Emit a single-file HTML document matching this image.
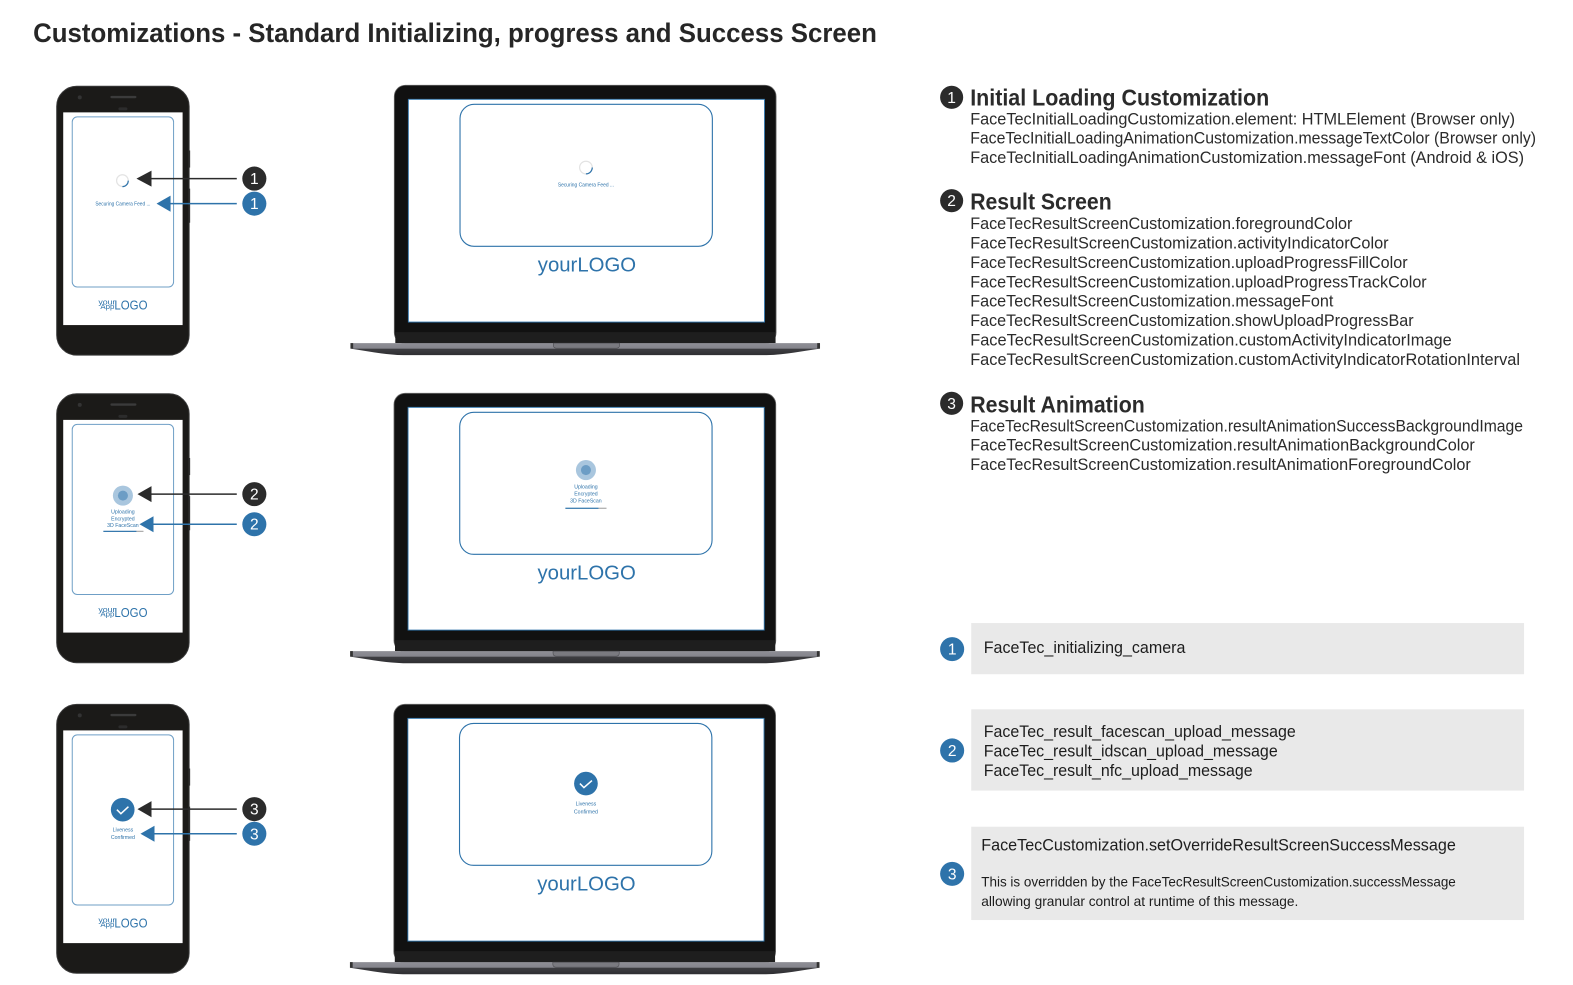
<!DOCTYPE html>
<html><head><meta charset="utf-8"><style>
html,body{margin:0;padding:0;background:#fff;width:1573px;height:985px;overflow:hidden}
svg{display:block}
text{font-family:"Liberation Sans",sans-serif}
.b{font-size:16.2px;fill:#2b2b2b}
.h{font-size:23.5px;font-weight:bold;fill:#2b2b2b}
.m{fill:#2e73aa;font-size:5.2px}
.n{fill:#fff;font-size:15.5px;text-anchor:middle}
.l{fill:#2e73aa;font-size:12.8px}
</style></head><body>
<svg width="1573" height="985" viewBox="0 0 1567.8 981.75" xmlns="http://www.w3.org/2000/svg">
<defs>
<linearGradient id="bs" x1="0" y1="0" x2="0" y2="1"><stop offset="0" stop-color="#8f8f96"/><stop offset=".42" stop-color="#85858c"/><stop offset=".5" stop-color="#3d3d41"/><stop offset="1" stop-color="#2e2e31"/></linearGradient>
<filter id="sh" x="-5%" y="-200%" width="110%" height="500%"><feGaussianBlur stdDeviation="1.2"/></filter>
<g id="phone">
<rect x="187" y="64" width="2.5" height="17" fill="#222"/>
<rect x="187" y="102" width="2.5" height="34" fill="#222"/>
<rect x="56.500" y="0" width="132" height="268" rx="20" fill="#1b1a18" stroke="#3a3a3a" stroke-width="1"/>
<rect x="63" y="26" width="119" height="212" fill="#fff"/>
<rect x="72" y="30.500" width="101" height="169.500" rx="5" fill="none" stroke="#6f9fc6" stroke-width="1"/>
<circle cx="79.500" cy="11" r="2" fill="#333"/>
<rect x="110" y="9.500" width="26" height="2.400" rx="1.200" fill="#3b3b3b"/>
<rect x="118" y="21" width="9" height="3" rx="1.500" fill="#2c2c2c"/>
<text x="98" y="217.500" style="font-size:7px;fill:#2e73aa" textLength="17" lengthAdjust="spacingAndGlyphs">your</text>
<text x="100" y="222" style="font-size:7px;fill:#2e73aa" textLength="14" lengthAdjust="spacingAndGlyphs">App</text>
<text x="114" y="222.500" class="l" textLength="33" lengthAdjust="spacingAndGlyphs">LOGO</text>
</g>
<g id="laptop">
<path d="M375 354.500H793" stroke="#9a9a9a" stroke-width="2.500" filter="url(#sh)"/>
<rect x="393" y="85" width="380.500" height="257.500" rx="11" fill="#111" stroke="#666" stroke-width=".8"/>
<rect x="394" y="331" width="379" height="11" fill="#1e1e1e"/>
<rect x="407" y="99" width="355" height="222" fill="#fff" stroke="#2e73aa" stroke-width=".9"/>
<path d="M349.300 342H817.300V347.500C799 350 784 353.500 764 354H402C382 353.500 367 350 349.300 347.500Z" fill="url(#bs)"/>
<path d="M349.300 342H352V347.500H349.300ZM814.500 342H817.300V347.500H814.500Z" fill="#333"/>
<path d="M551.500 342H617.500V344C617.500 346 616.500 347 614.500 347H554.500C552.500 347 551.500 346 551.500 344Z" fill="#7a7a80" stroke="#4c4c50" stroke-width=".6"/>
<rect x="458.500" y="104" width="251.500" height="141.500" rx="14" fill="none" stroke="#2e73aa" stroke-width="1.100"/>
<text x="536" y="270.500" style="font-size:20.500px;fill:#2e73aa" textLength="98" lengthAdjust="spacingAndGlyphs">yourLOGO</text>
</g>
</defs>

<text x="33" y="42" style="font-size:27px;font-weight:bold;fill:#262626" textLength="841" lengthAdjust="spacingAndGlyphs">Customizations - Standard Initializing, progress and Success Screen</text>

<!-- phones -->
<use href="#phone" x="0" y="86"/>
<use href="#phone" x="0" y="392.500"/>
<use href="#phone" x="0" y="702"/>

<!-- laptops -->
<use href="#laptop" x="0" y="0"/>
<use href="#laptop" x="-.3" y="307"/>
<use href="#laptop" x="-.5" y="617"/>

<!-- phone 1 content -->
<circle cx="122" cy="180" r="5.800" fill="none" stroke="#e3e3e3" stroke-width="1.200"/>
<path d="M127.800 180A5.800 5.800 0 0 1 122 186" fill="none" stroke="#2e73aa" stroke-width="1.200"/>
<text x="95" y="205" class="m" textLength="55" lengthAdjust="spacingAndGlyphs">Securing Camera Feed ...</text>
<!-- laptop 1 content -->
<circle cx="584" cy="167" r="6.300" fill="none" stroke="#e3e3e3" stroke-width="1.200"/>
<path d="M590.300 167A6.300 6.300 0 0 1 584 173.300" fill="none" stroke="#2e73aa" stroke-width="1.200"/>
<text x="556" y="186" class="m" textLength="56" lengthAdjust="spacingAndGlyphs">Securing Camera Feed ...</text>

<!-- phone 2 content -->
<circle cx="122.500" cy="494" r="10" fill="#a9c6de"/>
<circle cx="122.500" cy="494" r="5" fill="#6c9dc5"/>
<text x="122.500" y="512" class="m" text-anchor="middle">Uploading</text>
<text x="122.500" y="519" class="m" text-anchor="middle">Encrypted</text>
<text x="122.500" y="525.500" class="m" text-anchor="middle">3D FaceScan</text>
<rect x="103" y="529" width="33" height="1.200" fill="#2e73aa"/>
<rect x="136" y="529" width="7" height="1.200" fill="#aaa"/>
<!-- laptop 2 content -->
<circle cx="584" cy="468.500" r="10" fill="#a9c6de"/>
<circle cx="584" cy="468.500" r="5" fill="#6c9dc5"/>
<text x="584" y="487" class="m" text-anchor="middle">Uploading</text>
<text x="584" y="494" class="m" text-anchor="middle">Encrypted</text>
<text x="584" y="501" class="m" text-anchor="middle">3D FaceScan</text>
<rect x="563.500" y="506" width="33" height="1.200" fill="#2e73aa"/>
<rect x="596.500" y="506" width="8" height="1.200" fill="#aaa"/>

<!-- phone 3 content -->
<circle cx="122.300" cy="807" r="11.800" fill="#2e73aa"/>
<path d="M116.500 807L120.500 811L128 804" fill="none" stroke="#fff" stroke-width="1.500"/>
<text x="122.500" y="829" class="m" text-anchor="middle">Liveness</text>
<text x="122.500" y="836" class="m" text-anchor="middle">Confirmed</text>
<!-- laptop 3 content -->
<circle cx="584" cy="781" r="11.800" fill="#2e73aa"/>
<path d="M578 781L582 785L590 778" fill="none" stroke="#fff" stroke-width="1.500"/>
<text x="584" y="803" class="m" text-anchor="middle">Liveness</text>
<text x="584" y="811" class="m" text-anchor="middle">Confirmed</text>

<!-- arrows -->
<g stroke-width="1.500">
<path d="M148 178H236" stroke="#2b2b2b"/><path d="M136 178L151 170V186Z" fill="#2b2b2b"/>
<path d="M168 203H236" stroke="#2e73aa"/><path d="M156 203L170 195V211Z" fill="#2e73aa"/>
<path d="M148 492.500H236" stroke="#2b2b2b"/><path d="M137 492.500L151 484.500V500.500Z" fill="#2b2b2b"/>
<path d="M150 522.500H236" stroke="#2e73aa"/><path d="M139 522.500L153 514.500V530.500Z" fill="#2e73aa"/>
<path d="M148 806.500H236" stroke="#2b2b2b"/><path d="M137 806.500L151 798.500V814.500Z" fill="#2b2b2b"/>
<path d="M150 831H236" stroke="#2e73aa"/><path d="M140 831L154 823V839Z" fill="#2e73aa"/>
</g>
<circle cx="253.500" cy="178" r="12" fill="#2b2b2b"/><text x="253.500" y="183.500" class="n">1</text>
<circle cx="253.500" cy="203" r="12" fill="#2e73aa"/><text x="253.500" y="208.500" class="n">1</text>
<circle cx="253.500" cy="492.500" r="12" fill="#2b2b2b"/><text x="253.500" y="498" class="n">2</text>
<circle cx="253.500" cy="522.500" r="12" fill="#2e73aa"/><text x="253.500" y="528" class="n">2</text>
<circle cx="253.500" cy="806.500" r="12" fill="#2b2b2b"/><text x="253.500" y="812" class="n">3</text>
<circle cx="253.500" cy="831" r="12" fill="#2e73aa"/><text x="253.500" y="836.500" class="n">3</text>

<!-- right column -->
<circle cx="948.500" cy="97" r="11.500" fill="#2b2b2b"/><text x="948.500" y="102.500" class="n">1</text>
<text x="967" y="105" class="h" textLength="298" lengthAdjust="spacingAndGlyphs">Initial Loading Customization</text>
<text x="967" y="124" class="b" textLength="543" lengthAdjust="spacingAndGlyphs">FaceTecInitialLoadingCustomization.element: HTMLElement (Browser only)</text>
<text x="967" y="143" class="b" textLength="564" lengthAdjust="spacingAndGlyphs">FaceTecInitialLoadingAnimationCustomization.messageTextColor (Browser only)</text>
<text x="967" y="162.500" class="b" textLength="552" lengthAdjust="spacingAndGlyphs">FaceTecInitialLoadingAnimationCustomization.messageFont (Android &amp; iOS)</text>

<circle cx="948.500" cy="200" r="11.500" fill="#2b2b2b"/><text x="948.500" y="205.500" class="n">2</text>
<text x="967" y="209" class="h" textLength="141" lengthAdjust="spacingAndGlyphs">Result Screen</text>
<text x="967" y="228" class="b" textLength="381" lengthAdjust="spacingAndGlyphs">FaceTecResultScreenCustomization.foregroundColor</text>
<text x="967" y="247.500" class="b" textLength="417" lengthAdjust="spacingAndGlyphs">FaceTecResultScreenCustomization.activityIndicatorColor</text>
<text x="967" y="267" class="b" textLength="436" lengthAdjust="spacingAndGlyphs">FaceTecResultScreenCustomization.uploadProgressFillColor</text>
<text x="967" y="286.500" class="b" textLength="455" lengthAdjust="spacingAndGlyphs">FaceTecResultScreenCustomization.uploadProgressTrackColor</text>
<text x="967" y="305.500" class="b" textLength="362" lengthAdjust="spacingAndGlyphs">FaceTecResultScreenCustomization.messageFont</text>
<text x="967" y="325" class="b" textLength="442" lengthAdjust="spacingAndGlyphs">FaceTecResultScreenCustomization.showUploadProgressBar</text>
<text x="967" y="344.500" class="b" textLength="480" lengthAdjust="spacingAndGlyphs">FaceTecResultScreenCustomization.customActivityIndicatorImage</text>
<text x="967" y="364" class="b" textLength="548" lengthAdjust="spacingAndGlyphs">FaceTecResultScreenCustomization.customActivityIndicatorRotationInterval</text>

<circle cx="948.500" cy="402" r="11.500" fill="#2b2b2b"/><text x="948.500" y="407.500" class="n">3</text>
<text x="967" y="411" class="h" textLength="174" lengthAdjust="spacingAndGlyphs">Result Animation</text>
<text x="967" y="430" class="b" textLength="551" lengthAdjust="spacingAndGlyphs">FaceTecResultScreenCustomization.resultAnimationSuccessBackgroundImage</text>
<text x="967" y="449" class="b" textLength="503" lengthAdjust="spacingAndGlyphs">FaceTecResultScreenCustomization.resultAnimationBackgroundColor</text>
<text x="967" y="468.500" class="b" textLength="499" lengthAdjust="spacingAndGlyphs">FaceTecResultScreenCustomization.resultAnimationForegroundColor</text>

<rect x="968" y="621" width="551" height="51" fill="#e9e9e9"/>
<rect x="968" y="707" width="551" height="81" fill="#e9e9e9"/>
<rect x="968" y="824" width="551" height="93" fill="#e9e9e9"/>

<circle cx="949" cy="647" r="12" fill="#2e73aa"/><text x="949" y="652.500" class="n">1</text>
<circle cx="949" cy="748" r="12" fill="#2e73aa"/><text x="949" y="753.500" class="n">2</text>
<circle cx="949" cy="871" r="12" fill="#2e73aa"/><text x="949" y="876.500" class="n">3</text>

<text x="980.500" y="651" class="b" style="fill:#1d1d1d" textLength="201" lengthAdjust="spacingAndGlyphs">FaceTec_initializing_camera</text>
<text x="980.500" y="734.500" class="b" style="fill:#1d1d1d" textLength="311" lengthAdjust="spacingAndGlyphs">FaceTec_result_facescan_upload_message</text>
<text x="980.500" y="754" class="b" style="fill:#1d1d1d" textLength="293" lengthAdjust="spacingAndGlyphs">FaceTec_result_idscan_upload_message</text>
<text x="980.500" y="773.500" class="b" style="fill:#1d1d1d" textLength="268" lengthAdjust="spacingAndGlyphs">FaceTec_result_nfc_upload_message</text>
<text x="978" y="847.500" class="b" style="fill:#1d1d1d" textLength="473" lengthAdjust="spacingAndGlyphs">FaceTecCustomization.setOverrideResultScreenSuccessMessage</text>
<text x="978" y="883.500" style="font-size:14px;fill:#1d1d1d" textLength="473" lengthAdjust="spacingAndGlyphs">This is overridden by the FaceTecResultScreenCustomization.successMessage</text>
<text x="978" y="903" style="font-size:14px;fill:#1d1d1d" textLength="316" lengthAdjust="spacingAndGlyphs">allowing granular control at runtime of this message.</text>
</svg>
</body></html>
